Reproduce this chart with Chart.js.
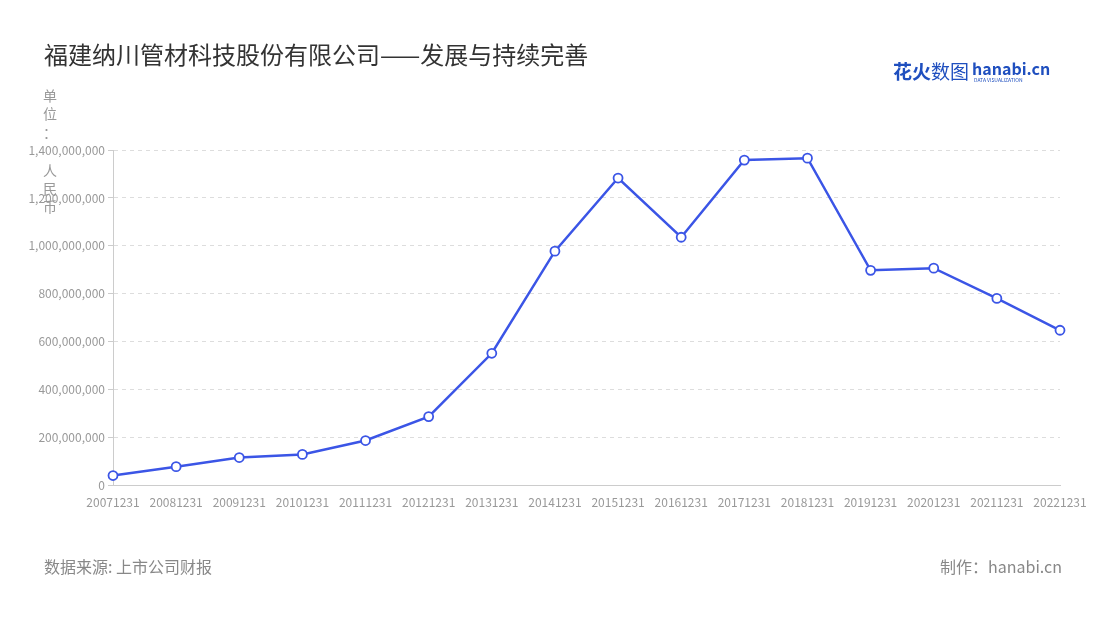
<!DOCTYPE html>
<html><head><meta charset="utf-8">
<script src="https://cdn.jsdelivr.net/npm/chart.js@4/dist/chart.umd.min.js"></script>
<style>body{margin:0;background:#fff}#w{position:relative;width:1100px;height:620px}canvas{position:absolute;left:0;top:0}</style>
</head><body><div id="w"><canvas id="c" width="1100" height="620"></canvas></div>
<script>
const categories=["20071231","20081231","20091231","20101231","20111231","20121231","20131231","20141231","20151231","20161231","20171231","20181231","20191231","20201231","20211231","20221231"];
const values=[42e6,79e6,117e6,130e6,188e6,288e6,552e6,978e6,1283e6,1036e6,1358e6,1366e6,898e6,907e6,781e6,648e6];
const yTicks=[0,2e8,4e8,6e8,8e8,10e8,12e8,14e8];
const F='"Noto Sans CJK SC","Noto Sans",sans-serif';
const deco={id:'deco',afterDraw(ch){const c=ch.ctx;c.save();
c.fillStyle='#333';c.font='24px '+F;c.textBaseline='alphabetic';c.fillText('福建纳川管材科技股份有限公司——发展与持续完善',44,64);
c.fillStyle='#999';c.font='14px '+F;c.textAlign='center';
[['单',101],['位',119],['：',138],['人',176],['民',194],['币',212]].forEach(([s,y])=>c.fillText(s,50,y));
c.textAlign='left';c.fillStyle='#888';c.font='16px '+F;c.fillText('数据来源: 上市公司财报',44,573);
c.textAlign='right';c.fillText('制作：hanabi.cn',1062,573);
c.textAlign='left';c.fillStyle='#1f4fbf';c.font='bold 19px '+F;c.fillText('花火',893,79);c.font='19px '+F;c.fillText('数图',931,79);
c.font='bold 16px '+F;c.fillText('hanabi.cn',972,75);c.font='5px '+F;c.fillText('DATA VISUALIZATION',974,82);
c.restore();}};
new Chart(document.getElementById('c'),{type:'line',
data:{labels:categories,datasets:[{data:values,borderColor:'#3b55e6',borderWidth:2.5,pointRadius:4.5,pointBorderWidth:1.8,pointBackgroundColor:'#fff',pointBorderColor:'#3b55e6',tension:0}]},
options:{responsive:false,animation:false,layout:{padding:{left:0,right:40,top:150,bottom:108}},
plugins:{legend:{display:false},tooltip:{enabled:false}},
scales:{x:{offset:false,grid:{display:false,drawTicks:true},border:{color:'#ccc'},ticks:{color:'#999',font:{size:12,family:F},maxRotation:0,autoSkip:false,padding:2}},
y:{min:0,max:1.4e9,afterFit(s){s.width=113},afterBuildTicks(s){s.ticks=yTicks.map(v=>({value:v}))},
grid:{color:'#ddd',tickLength:5,tickColor:'#ccc',drawTicks:true},border:{color:'#ccc',dash:[4,4]},
ticks:{color:'#999',font:{size:12,family:F},padding:3,callback:v=>v.toLocaleString('en-US')}}}},
plugins:[deco]});
</script></body></html>
